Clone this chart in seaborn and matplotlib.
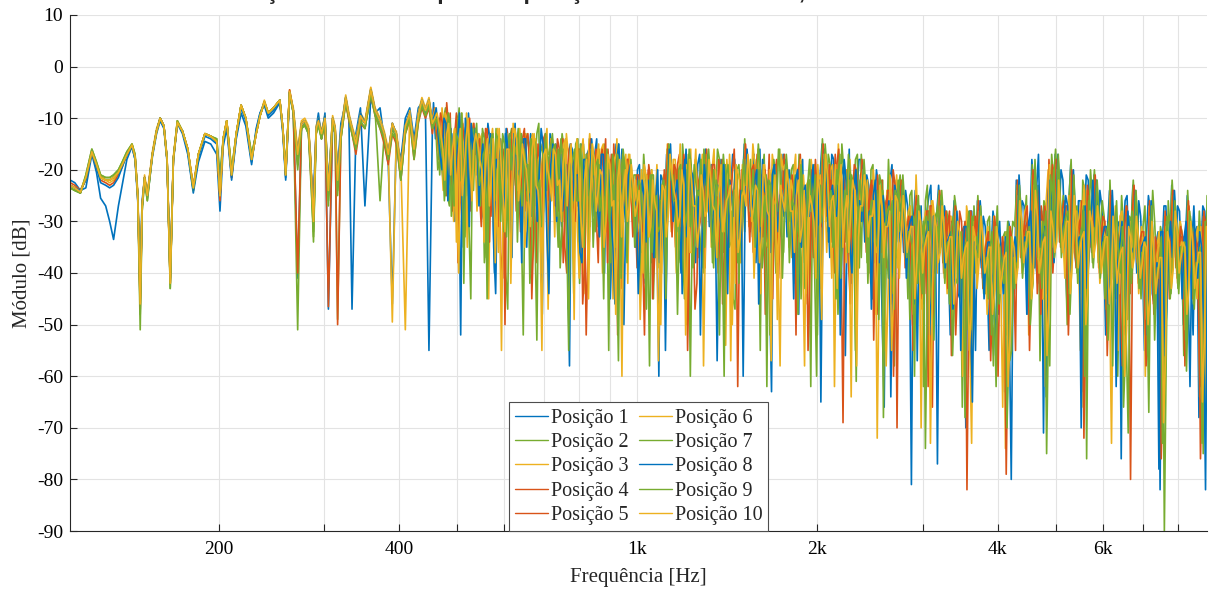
import numpy as np
import pandas as pd
import matplotlib
matplotlib.use("Agg")
import matplotlib.pyplot as plt
import seaborn as sns
from matplotlib.ticker import FixedLocator, FixedFormatter, NullLocator
from matplotlib.lines import Line2D

# ---------------- data ----------------
labels = [f"Posição {k}" for k in range(1, 11)]
blue, green, yellow, orange = "#0072BD", "#77AC30", "#EDB120", "#D95319"
colors = [blue, green, yellow, orange, orange, yellow, green, blue, green, yellow]

f_low = [113, 115, 117.5, 120, 122.8, 125, 127, 129.5, 131.5, 133.5,
         136, 138, 140.5, 143.3, 145, 146.5, 147.9, 149, 150.4, 152,
         155, 157.5, 159.7, 162, 164, 166, 168, 170.6, 174, 177.6,
         181.4, 185, 189.7, 194, 198.5, 201, 203.5, 206.3, 210.2, 214,
         218, 222, 227, 231, 234.5, 238.4, 242, 247, 253, 256,
         258.8, 262.7, 266.5, 271, 275, 278.5, 282.5, 285, 288, 291,
         293.5, 297, 301, 305, 310, 313, 316, 320, 326, 330,
         334, 339, 345, 351, 359, 365, 372, 378, 384, 390,
         396, 403, 410, 417, 424, 431, 437, 443, 449, 455]
f_high_start, f_high_stop, n_high = 460, 9000, 200
extra_start = 50   # extra bins sit half-way between high bins

low_1 = [-22, -22.5, -24, -23.5, -17, -20.5, -25.5, -27, -30, -33.5,
         -27, -23, -18, -15.5, -18, -26, -38, -26, -21.5, -25.5,
         -17.5, -13, -10.5, -12, -18.5, -40, -18.5, -11, -13, -17,
         -24.5, -18.5, -14.5, -15, -17, -28, -15.5, -12, -22, -14,
         -9, -11.5, -19, -12, -9, -7.5, -10, -9, -7, -13,
         -22, -5.5, -9, -41, -12, -11, -13, -20, -25, -12,
         -9, -14, -9, -47, -11, -13, -20, -11, -7, -10,
         -47, -13, -8, -27, -6, -9, -8, -14, -19, -46,
         -14, -18, -10, -8, -14, -8, -7, -9, -55, -12]
low_2 = [-23.5, -24, -24.5, -21, -16, -18.5, -21, -21.5, -21.5, -21,
         -20, -18.5, -16.5, -15, -17, -25, -51, -28, -22, -26,
         -17, -12.5, -10, -11.5, -18, -43, -18, -10.5, -12.5, -16,
         -24, -17, -13, -13.5, -14, -21, -14, -10.5, -20, -13,
         -7.5, -10, -17, -13, -9.5, -7, -9, -8, -6.5, -12,
         -20, -5, -8.5, -51, -11, -10.5, -12, -18, -33, -12,
         -10.5, -13, -10, -23, -10, -12, -49, -13, -6, -9.5,
         -12, -15, -10, -11, -4.5, -8.5, -26, -13, -17, -11,
         -13, -21, -11.5, -9, -17, -9.5, -6.5, -8.5, -7, -11]
low_3 = [-23, -23.5, -24, -21.5, -16.5, -19, -21, -22, -22.5, -22,
         -20.5, -19, -17, -15, -17.5, -24, -44, -27, -21, -24.5,
         -16.5, -12, -10, -11.5, -17.5, -41, -17.5, -10.5, -12.5, -16,
         -23, -17, -13, -13.5, -14.5, -24, -14, -10.5, -21, -13,
         -7.5, -10, -18, -13, -9.5, -6.5, -9, -8, -6.5, -12,
         -21, -4.5, -8.5, -17, -11, -10.5, -12, -19, -30, -12,
         -10.5, -13, -10, -24, -10, -12, -22, -13, -6, -9.5,
         -12, -15, -9.5, -11, -4.2, -8.5, -10.5, -13, -17, -49.5,
         -13, -20, -11.5, -9, -16, -9.5, -6.5, -8.5, -6.5, -11]
low_4 = [-22.5, -23, -24, -22, -16.5, -19.5, -22, -22.5, -23, -22.5,
         -21, -19.5, -17, -15.5, -17.5, -25, -47, -27, -21.5, -25,
         -17, -12.5, -10, -11.5, -18, -42, -18, -11, -12.5, -16,
         -23.5, -17, -13, -13.5, -14.5, -26, -14, -10.5, -21.5, -13,
         -7.5, -10, -18, -13, -9.5, -7, -9, -8, -6.5, -12,
         -21, -4.5, -8.5, -40, -11, -10.5, -12, -19, -30, -12,
         -10.5, -13, -10, -46.5, -10, -12, -22, -13, -6, -9.5,
         -12, -15, -9.5, -11, -4.5, -8.5, -10.5, -13, -17, -11,
         -13, -20, -11.5, -9, -16, -9.5, -6.5, -8.5, -6.5, -11]
low_5 = [-23, -23.5, -24.5, -21.5, -16.5, -19, -21.5, -22, -22, -21.5,
         -20.5, -19, -17, -15.2, -17.5, -25, -45, -27, -21.5, -25,
         -17, -12.5, -10, -11.5, -18, -42, -18, -10.8, -12.5, -16,
         -23.5, -17, -13, -13.5, -14.5, -25, -14, -10.5, -21, -13,
         -7.5, -10, -18, -13, -9.5, -6.8, -9, -8, -6.5, -12,
         -21, -4.8, -9, -18, -12, -11, -13, -21, -28, -13,
         -11, -14, -11, -25, -11, -13, -50, -14, -7, -10.5,
         -13, -17, -11, -12, -5.5, -9.5, -12, -15, -19, -13,
         -15, -22, -13, -10.5, -18, -11, -8, -10, -8, -13]
low_6 = [-23, -23.5, -24.3, -21.5, -16.5, -19, -21.5, -22, -22, -21.5,
         -20.5, -19, -17, -15.2, -17.5, -25, -42, -27, -21.5, -25,
         -17, -12.5, -10, -11.5, -18, -41, -18, -10.8, -12.5, -16,
         -23.5, -17, -13, -13.5, -14.5, -25, -14, -10.5, -21, -13,
         -7.5, -10, -18, -13, -9.5, -6.8, -9, -8, -6.5, -12,
         -21, -5, -8, -16, -10.5, -10, -11.5, -18, -31, -11.5,
         -10, -12.5, -9.5, -23, -9.5, -11.5, -21, -12.5, -5.5, -9,
         -11.5, -14, -9, -10.5, -4, -8, -10, -12.5, -16, -12,
         -12.5, -19, -51, -8.5, -15.5, -9, -6, -8, -6, -10.5]
low_7 = [-23.5, -24, -24.5, -21, -16, -18.5, -21, -21.5, -21.5, -21,
         -20, -18.5, -16.5, -15, -17, -25, -48, -28, -22, -26,
         -17, -12.5, -10, -11.5, -18, -43, -18, -10.5, -12.5, -16,
         -24, -17, -13, -13.5, -14, -22, -14, -10.5, -20, -13,
         -7.5, -10, -17, -13, -9.5, -7, -9, -8, -6.5, -12,
         -20, -5, -9, -19, -12, -11.5, -13, -20, -34, -13,
         -11, -14, -10.5, -26, -10.5, -13, -24, -14, -6.5, -10,
         -13, -16, -10.5, -12, -5, -9, -11.5, -14, -18, -12,
         -14, -22, -12.5, -10, -18, -10.5, -7.5, -9.5, -7.5, -12]
low_8 = [-23, -23.5, -24, -22, -16.5, -19.5, -22.5, -23, -23.5, -23,
         -21.5, -19.5, -17, -15.5, -18, -25, -44, -27, -21.5, -25,
         -17, -12.5, -10, -11.5, -18, -41, -18, -11, -12.5, -16.5,
         -24, -17.5, -13.5, -14, -15, -23, -14.5, -11, -21.5, -13.5,
         -8, -10.5, -18.5, -12.5, -9, -7, -9.5, -8.5, -6.5, -12.5,
         -21.5, -5, -8.5, -17, -11, -10.5, -12, -19, -29, -12,
         -10, -13, -9.5, -23, -10, -12, -21, -12.5, -6, -9.5,
         -12, -15, -9, -11, -4.5, -8.5, -10.5, -13, -17, -11,
         -13, -20, -11, -9, -16, -9.5, -6.5, -8.5, -6.5, -11]
low_9 = [-23.5, -24, -24.5, -21.5, -16.5, -19, -21.5, -22, -22, -21.5,
         -20.5, -19, -17, -15.2, -17.5, -25, -46, -27, -21.5, -25,
         -17, -12.5, -10, -11.5, -18, -42, -18, -10.8, -12.5, -16,
         -23.5, -17, -13, -13.5, -14.5, -25, -14, -10.5, -21, -13,
         -7.5, -10, -18, -13, -9.5, -6.8, -9, -8, -6.5, -12,
         -21, -5, -9, -20, -12, -11, -13, -22, -32, -13,
         -11.5, -14, -11, -27, -11, -13, -25, -14, -7, -10,
         -13, -16, -10.5, -12, -5.5, -9.5, -12, -14, -18, -13,
         -14, -22, -13, -10, -17, -10.5, -7.5, -9.5, -7.5, -12]
low_10 = [-23, -23.5, -24.3, -21.5, -16.5, -19, -21.5, -22, -22, -21.5,
          -20.5, -19, -17, -15.2, -17.5, -25, -46, -27, -21.5, -25,
          -17, -12.5, -10, -11.5, -18, -42, -18, -10.8, -12.5, -16,
          -23.5, -17, -13, -13.5, -14.5, -25, -14, -10.5, -21, -13,
          -7.5, -10, -18, -13, -9.5, -6.8, -9, -8, -6.5, -12,
          -21, -4.8, -8.5, -17, -11, -10.5, -12, -19, -30, -12,
          -10.5, -13, -10, -24, -10, -12, -22, -13, -6, -9.5,
          -12, -15, -9.5, -11, -4.5, -8.5, -10.5, -13, -17, -11,
          -13, -20, -11.5, -9, -16, -9.5, -6.5, -8.5, -6.5, -11]

high_1 = [-7, -12, -19, -9, -14, -24, -11, -52, -13, -9,
          -12, -21, -15, -30, -11, -18, -44, -16, -25, -13,
          -14, -11, -26, -18, -35, -13, -22, -16, -48, -15,
          -13, -25, -17, -31, -14, -58, -19, -27, -15, -22,
          -16, -29, -14, -21, -40, -17, -33, -15, -26, -50,
          -18, -24, -35, -19, -28, -21, -38, -25, -60, -22,
          -17, -15, -29, -22, -44, -16, -25, -34, -19, -27,
          -16, -31, -21, -57, -18, -24, -36, -17, -29, -22,
          -15, -26, -20, -38, -16, -30, -23, -63, -19, -28,
          -17, -33, -22, -29, -48, -18, -25, -36, -20, -27,
          -15, -24, -37, -18, -28, -21, -56, -16, -31, -25,
          -18, -34, -23, -45, -20, -30, -66, -26, -19, -37,
          -22, -36, -27, -81, -24, -33, -46, -28, -23, -40,
          -23, -35, -30, -52, -26, -44, -32, -70, -28, -37,
          -26, -39, -31, -55, -28, -45, -35, -63, -30, -41,
          -22, -34, -27, -48, -18, -38, -29, -71, -24, -33,
          -17, -30, -22, -45, -19, -36, -26, -58, -21, -32,
          -21, -35, -27, -52, -24, -41, -31, -76, -26, -38,
          -23, -40, -29, -55, -25, -44, -34, -82, -27, -39,
          -23, -37, -28, -50, -25, -42, -32, -68, -27, -35]
high_2 = [-9, -20, -13, -8, -27, -15, -10, -18, -33, -12,
          -13, -11, -24, -38, -15, -20, -12, -29, -17, -47,
          -12, -23, -16, -52, -13, -27, -19, -11, -30, -17,
          -15, -20, -35, -13, -24, -18, -44, -14, -28, -21,
          -14, -35, -19, -25, -15, -55, -22, -17, -31, -20,
          -19, -27, -21, -43, -17, -33, -20, -29, -39, -24,
          -16, -28, -19, -38, -15, -23, -60, -21, -30, -18,
          -17, -22, -39, -16, -27, -19, -33, -45, -20, -26,
          -14, -24, -33, -18, -55, -17, -27, -21, -40, -16,
          -18, -29, -20, -42, -17, -31, -24, -62, -19, -26,
          -14, -30, -19, -26, -48, -15, -34, -22, -28, -17,
          -17, -28, -40, -19, -33, -24, -55, -18, -30, -22,
          -21, -31, -45, -24, -38, -27, -62, -23, -35, -29,
          -24, -38, -28, -47, -25, -35, -66, -30, -40, -27,
          -25, -36, -44, -29, -58, -27, -40, -32, -49, -30,
          -23, -37, -30, -44, -19, -33, -57, -26, -40, -17,
          -16, -34, -25, -50, -18, -29, -41, -22, -76, -20,
          -20, -38, -26, -47, -22, -34, -60, -25, -43, -29,
          -22, -37, -45, -27, -67, -24, -39, -31, -90, -26,
          -22, -39, -30, -56, -24, -36, -43, -28, -75, -25]
high_3 = [-10, -16, -8, -22, -12, -30, -14, -9, -20, -13,
          -11, -28, -14, -19, -45, -12, -23, -16, -32, -14,
          -13, -19, -12, -29, -22, -41, -14, -25, -17, -12,
          -14, -33, -18, -23, -13, -26, -49, -16, -20, -30,
          -13, -22, -31, -16, -27, -19, -45, -14, -37, -18,
          -17, -30, -23, -49, -19, -26, -20, -34, -27, -21,
          -15, -32, -18, -26, -21, -50, -16, -28, -37, -17,
          -18, -26, -16, -34, -23, -54, -17, -30, -20, -38,
          -16, -31, -15, -25, -44, -19, -35, -17, -24, -58,
          -19, -24, -37, -17, -30, -21, -46, -18, -28, -34,
          -16, -36, -20, -62, -15, -27, -38, -18, -24, -31,
          -19, -26, -38, -20, -72, -23, -33, -27, -44, -21,
          -24, -34, -28, -43, -21, -39, -30, -55, -26, -36,
          -25, -33, -44, -29, -39, -31, -60, -27, -42, -30,
          -27, -38, -33, -47, -29, -42, -36, -74, -31, -40,
          -24, -35, -28, -52, -21, -39, -31, -45, -20, -36,
          -19, -33, -27, -40, -21, -37, -29, -66, -24, -35,
          -22, -39, -30, -45, -25, -36, -55, -28, -42, -33,
          -24, -38, -31, -60, -27, -43, -35, -48, -29, -41,
          -25, -36, -30, -47, -27, -41, -33, -64, -29, -38]
high_4 = [-8, -15, -11, -25, -9, -17, -38, -12, -21, -10,
          -12, -19, -31, -13, -26, -17, -14, -36, -20, -15,
          -12, -28, -17, -21, -13, -45, -18, -24, -14, -33,
          -15, -21, -28, -14, -40, -19, -25, -16, -31, -52,
          -15, -25, -18, -33, -14, -22, -28, -17, -43, -21,
          -18, -33, -21, -27, -52, -20, -30, -24, -36, -22,
          -16, -26, -35, -17, -24, -30, -19, -47, -22, -29,
          -16, -28, -19, -40, -18, -32, -22, -26, -62, -20,
          -15, -22, -36, -17, -27, -20, -31, -45, -18, -30,
          -17, -26, -21, -52, -19, -33, -24, -28, -18, -37,
          -15, -29, -22, -40, -16, -32, -25, -46, -19, -27,
          -18, -32, -24, -53, -21, -36, -27, -41, -20, -70,
          -23, -37, -29, -50, -25, -41, -32, -62, -27, -35,
          -24, -40, -31, -56, -27, -38, -33, -82, -28, -38,
          -26, -41, -34, -48, -30, -60, -36, -44, -32, -39,
          -22, -37, -29, -43, -20, -35, -48, -27, -41, -19,
          -18, -34, -26, -47, -20, -38, -30, -63, -23, -33,
          -21, -36, -29, -49, -24, -40, -33, -58, -27, -44,
          -23, -39, -32, -52, -26, -46, -36, -76, -28, -42,
          -24, -40, -31, -55, -26, -43, -34, -62, -28, -37]
high_5 = [-9, -18, -12, -7, -23, -14, -31, -11, -16, -28,
          -11, -16, -22, -12, -34, -18, -13, -27, -50, -15,
          -13, -17, -32, -12, -21, -15, -38, -20, -14, -26,
          -14, -27, -16, -38, -21, -15, -30, -18, -46, -17,
          -14, -20, -38, -16, -29, -23, -15, -52, -19, -27,
          -18, -22, -39, -24, -31, -19, -45, -23, -28, -20,
          -15, -33, -20, -28, -17, -55, -24, -18, -31, -21,
          -17, -25, -30, -18, -46, -21, -27, -16, -35, -23,
          -16, -34, -19, -29, -21, -48, -17, -32, -23, -26,
          -18, -31, -23, -38, -17, -27, -55, -20, -33, -22,
          -16, -26, -34, -17, -30, -69, -20, -36, -23, -28,
          -20, -36, -25, -31, -48, -22, -39, -24, -60, -26,
          -22, -39, -31, -55, -26, -35, -44, -28, -66, -33,
          -26, -37, -43, -30, -52, -28, -41, -33, -63, -29,
          -27, -43, -35, -57, -29, -47, -33, -79, -31, -42,
          -23, -38, -31, -55, -21, -44, -27, -36, -18, -40,
          -18, -35, -28, -52, -22, -39, -31, -72, -24, -36,
          -22, -40, -31, -56, -25, -43, -34, -47, -27, -80,
          -25, -42, -33, -58, -27, -48, -37, -66, -29, -45,
          -24, -41, -33, -58, -27, -45, -35, -76, -29, -39]
high_6 = [-8, -14, -24, -10, -18, -12, -40, -15, -9, -19,
          -14, -25, -13, -20, -17, -31, -12, -55, -16, -22,
          -11, -24, -15, -35, -19, -13, -28, -17, -22, -47,
          -14, -19, -26, -15, -33, -20, -17, -41, -14, -24,
          -16, -27, -15, -40, -20, -31, -18, -23, -60, -17,
          -17, -28, -32, -20, -41, -23, -26, -19, -50, -24,
          -18, -23, -40, -15, -29, -20, -36, -16, -25, -58,
          -17, -35, -20, -24, -30, -18, -57, -22, -26, -19,
          -18, -28, -41, -16, -23, -34, -20, -29, -49, -17,
          -19, -35, -24, -30, -18, -58, -22, -27, -39, -21,
          -17, -23, -41, -19, -33, -26, -20, -64, -24, -30,
          -20, -29, -42, -22, -35, -26, -58, -21, -31, -39,
          -25, -38, -32, -48, -27, -70, -30, -42, -26, -37,
          -27, -41, -33, -49, -28, -38, -45, -31, -73, -34,
          -28, -39, -48, -33, -43, -36, -66, -32, -41, -37,
          -25, -40, -33, -47, -23, -37, -30, -62, -19, -35,
          -20, -32, -41, -25, -36, -28, -55, -23, -38, -30,
          -24, -42, -32, -38, -73, -27, -44, -34, -39, -30,
          -26, -44, -33, -49, -29, -40, -35, -62, -31, -43,
          -26, -42, -34, -51, -28, -38, -45, -31, -70, -36]
high_7 = [-9, -21, -14, -11, -29, -16, -8, -23, -13, -45,
          -13, -20, -12, -37, -17, -24, -14, -19, -30, -13,
          -14, -34, -13, -20, -26, -16, -53, -15, -23, -18,
          -13, -24, -39, -16, -22, -28, -15, -34, -19, -26,
          -17, -32, -19, -26, -16, -38, -21, -57, -18, -29,
          -20, -31, -25, -36, -22, -58, -21, -33, -26, -40,
          -15, -21, -32, -19, -45, -17, -28, -23, -33, -16,
          -19, -29, -24, -52, -17, -26, -34, -20, -42, -25,
          -17, -23, -30, -15, -39, -21, -52, -18, -28, -33,
          -20, -38, -25, -31, -19, -43, -22, -29, -60, -23,
          -18, -32, -24, -45, -17, -29, -36, -21, -55, -26,
          -21, -38, -27, -33, -49, -24, -36, -29, -47, -22,
          -26, -35, -49, -29, -42, -33, -74, -28, -39, -31,
          -25, -42, -34, -56, -30, -45, -35, -51, -29, -40,
          -29, -44, -37, -52, -31, -46, -38, -70, -33, -43,
          -24, -41, -32, -50, -22, -37, -43, -28, -58, -20,
          -19, -37, -30, -44, -23, -40, -32, -60, -26, -38,
          -23, -41, -33, -53, -26, -45, -35, -66, -29, -42,
          -25, -43, -35, -48, -28, -53, -38, -73, -30, -45,
          -25, -43, -35, -53, -28, -46, -37, -60, -30, -41]
high_8 = [-8, -17, -10, -26, -13, -20, -9, -35, -14, -11,
          -12, -27, -15, -22, -13, -40, -18, -24, -12, -29,
          -13, -21, -38, -14, -25, -18, -30, -12, -19, -44,
          -15, -30, -17, -24, -47, -16, -21, -36, -18, -25,
          -14, -24, -33, -17, -21, -29, -46, -15, -25, -32,
          -19, -26, -44, -22, -34, -25, -37, -20, -31, -55,
          -16, -30, -22, -40, -18, -26, -21, -33, -52, -19,
          -17, -34, -23, -29, -19, -44, -25, -20, -31, -60,
          -16, -29, -22, -46, -18, -25, -36, -19, -32, -24,
          -18, -27, -45, -20, -35, -23, -29, -19, -41, -65,
          -16, -34, -23, -29, -52, -18, -30, -40, -20, -26,
          -19, -30, -47, -22, -38, -25, -31, -64, -23, -34,
          -23, -41, -30, -46, -26, -36, -33, -52, -29, -77,
          -26, -39, -33, -47, -28, -55, -31, -42, -65, -35,
          -26, -45, -34, -40, -56, -30, -44, -35, -80, -33,
          -21, -36, -48, -28, -39, -17, -33, -64, -22, -38,
          -17, -33, -25, -43, -20, -35, -70, -27, -37, -22,
          -22, -37, -31, -46, -24, -62, -34, -41, -28, -36,
          -24, -41, -34, -52, -26, -43, -78, -32, -47, -30,
          -24, -38, -45, -30, -62, -27, -41, -35, -82, -29]
high_9 = [-10, -15, -26, -9, -20, -13, -17, -42, -11, -22,
          -12, -23, -17, -45, -14, -26, -19, -13, -33, -18,
          -15, -12, -27, -19, -42, -14, -24, -31, -13, -21,
          -16, -29, -14, -21, -55, -18, -26, -15, -35, -20,
          -15, -19, -28, -45, -17, -24, -35, -20, -16, -38,
          -18, -35, -22, -28, -47, -21, -27, -32, -23, -45,
          -17, -26, -48, -20, -31, -16, -39, -24, -18, -35,
          -16, -38, -22, -27, -60, -19, -30, -24, -35, -18,
          -19, -25, -35, -20, -29, -62, -23, -27, -16, -41,
          -17, -30, -27, -48, -21, -34, -18, -25, -52, -30,
          -15, -27, -35, -20, -41, -24, -17, -30, -61, -22,
          -18, -42, -26, -34, -21, -68, -28, -40, -24, -32,
          -21, -37, -33, -60, -25, -44, -29, -38, -53, -27,
          -24, -36, -46, -29, -42, -32, -68, -28, -39, -33,
          -27, -40, -45, -32, -62, -35, -42, -30, -55, -38,
          -23, -39, -35, -45, -18, -40, -30, -75, -21, -37,
          -17, -36, -29, -48, -21, -42, -33, -55, -25, -39,
          -22, -38, -45, -30, -58, -26, -40, -35, -71, -28,
          -24, -42, -36, -56, -27, -47, -39, -64, -29, -44,
          -26, -44, -36, -59, -29, -47, -38, -73, -31, -40]
high_10 = [-9, -13, -22, -11, -16, -34, -12, -20, -10, -26,
           -13, -18, -29, -14, -21, -38, -12, -25, -16, -42,
           -12, -26, -15, -20, -31, -13, -24, -55, -16, -22,
           -16, -23, -30, -15, -20, -37, -14, -29, -22, -45,
           -15, -28, -20, -35, -17, -27, -48, -18, -24, -30,
           -19, -29, -24, -40, -21, -31, -26, -57, -23, -33,
           -17, -24, -31, -20, -52, -18, -27, -35, -21, -29,
           -18, -27, -37, -21, -30, -25, -50, -19, -33, -24,
           -17, -30, -23, -38, -19, -28, -57, -21, -33, -26,
           -20, -28, -36, -22, -31, -44, -25, -30, -19, -49,
           -17, -31, -25, -43, -19, -28, -36, -22, -58, -27,
           -21, -33, -29, -48, -23, -37, -31, -55, -25, -41,
           -25, -36, -31, -45, -28, -40, -33, -73, -29, -38,
           -27, -38, -33, -46, -30, -41, -35, -55, -31, -43,
           -29, -40, -35, -48, -31, -44, -37, -62, -33, -42,
           -26, -38, -32, -45, -24, -40, -34, -56, -28, -36,
           -22, -36, -30, -44, -25, -39, -33, -50, -28, -37,
           -27, -40, -33, -46, -29, -42, -36, -60, -31, -39,
           -29, -41, -34, -50, -30, -44, -37, -69, -32, -43,
           -28, -40, -34, -48, -30, -43, -36, -65, -31, -39]

# values half-way between high bins 0..49
extra_lo_1 = [-14, -10, -22, -16, -12, -30, -18, -11, -25, -15,
              -17, -13, -28, -20, -14, -35, -19, -24, -13, -21,
              -16, -24, -13, -31, -19, -15, -27, -21, -14, -38,
              -18, -15, -27, -20, -36, -16, -23, -19, -29, -17,
              -21, -17, -31, -24, -18, -45, -20, -26, -16, -28]
extra_lo_2 = [-12, -18, -10, -25, -14, -21, -9, -29, -16, -13,
              -15, -22, -17, -33, -13, -25, -19, -16, -40, -14,
              -18, -14, -30, -20, -16, -26, -13, -36, -21, -17,
              -14, -26, -19, -16, -31, -22, -17, -42, -15, -24,
              -19, -25, -16, -34, -21, -18, -28, -15, -37, -22]
extra_lo_3 = [-11, -19, -13, -9, -24, -15, -20, -12, -35, -17,
              -16, -13, -21, -27, -15, -19, -36, -14, -22, -18,
              -14, -27, -18, -13, -23, -33, -16, -20, -15, -29,
              -20, -16, -24, -30, -17, -22, -15, -27, -44, -19,
              -18, -26, -21, -15, -32, -19, -25, -38, -17, -23]
extra_lo_4 = [-13, -9, -20, -15, -28, -11, -16, -23, -12, -19,
              -14, -24, -17, -12, -29, -20, -15, -41, -18, -22,
              -15, -19, -25, -14, -20, -32, -17, -23, -13, -26,
              -17, -23, -15, -35, -21, -18, -28, -16, -24, -33,
              -20, -16, -27, -22, -38, -17, -24, -19, -30, -18]
extra_lo_5 = [-10, -16, -21, -12, -18, -9, -26, -14, -20, -13,
              -17, -14, -26, -19, -15, -23, -31, -16, -12, -25,
              -16, -22, -14, -28, -18, -24, -15, -33, -19, -21,
              -18, -14, -22, -29, -16, -25, -20, -17, -39, -22,
              -17, -29, -19, -24, -16, -33, -22, -27, -18, -25]
extra_lo_6 = [-12, -17, -9, -21, -14, -27, -11, -18, -24, -13,
              -15, -20, -34, -14, -23, -17, -26, -19, -13, -30,
              -17, -13, -22, -28, -15, -21, -18, -40, -14, -25,
              -16, -25, -20, -14, -28, -22, -31, -17, -23, -19,
              -22, -18, -26, -33, -19, -24, -17, -29, -21, -42]
extra_lo_7 = [-11, -14, -25, -10, -19, -13, -22, -17, -30, -12,
              -16, -27, -14, -21, -18, -13, -25, -32, -15, -20,
              -15, -21, -18, -26, -14, -31, -20, -17, -24, -16,
              -19, -16, -31, -22, -18, -25, -14, -29, -20, -34,
              -18, -23, -20, -29, -25, -17, -36, -22, -19, -27]
extra_lo_8 = [-13, -20, -11, -17, -24, -14, -19, -10, -31, -16,
              -14, -19, -26, -15, -22, -18, -14, -28, -17, -37,
              -16, -20, -14, -24, -29, -17, -21, -15, -33, -19,
              -17, -22, -28, -19, -15, -26, -21, -38, -18, -23,
              -19, -27, -17, -25, -20, -35, -18, -23, -28, -21]
extra_lo_9 = [-12, -16, -20, -11, -27, -14, -9, -19, -15, -24,
              -14, -21, -16, -26, -13, -20, -30, -15, -23, -17,
              -17, -23, -16, -19, -34, -15, -22, -28, -18, -24,
              -15, -21, -18, -33, -20, -16, -26, -22, -17, -31,
              -21, -18, -24, -19, -30, -23, -17, -41, -20, -26]
extra_lo_10 = [-11, -16, -13, -21, -12, -18, -25, -14, -19, -15,
               -15, -20, -17, -27, -14, -22, -19, -32, -16, -23,
               -14, -21, -18, -25, -16, -23, -30, -17, -20, -26,
               -17, -22, -19, -27, -15, -24, -21, -35, -18, -25,
               -18, -24, -21, -30, -19, -26, -22, -33, -20, -27]

# values half-way between high bins 50..199
extra_1 = [-23, -30, -20, -27, -42, -22, -26, -31, -21, -28,
           -20, -26, -33, -18, -24, -29, -21, -38, -17, -25,
           -22, -19, -28, -33, -20, -27, -24, -18, -35, -23,
           -19, -32, -17, -25, -30, -21, -44, -20, -26, -22,
           -24, -20, -30, -26, -19, -38, -23, -28, -32, -21,
           -20, -28, -17, -33, -24, -19, -29, -42, -22, -18,
           -25, -21, -36, -28, -23, -50, -26, -22, -31, -27,
           -28, -24, -35, -30, -57, -27, -33, -25, -38, -29,
           -30, -27, -38, -33, -29, -45, -31, -36, -28, -55,
           -33, -29, -41, -36, -31, -48, -34, -38, -32, -44,
           -29, -26, -37, -31, -24, -42, -28, -33, -21, -30,
           -24, -20, -33, -27, -23, -39, -26, -30, -22, -28,
           -28, -24, -36, -31, -27, -44, -30, -34, -25, -33,
           -30, -26, -39, -33, -28, -46, -32, -36, -27, -35,
           -30, -27, -38, -34, -29, -52, -31, -36, -28, -33]
extra_2 = [-25, -21, -34, -28, -23, -31, -45, -22, -27, -33,
           -18, -29, -23, -35, -20, -27, -31, -19, -26, -40,
           -21, -30, -25, -18, -36, -23, -28, -47, -19, -29,
           -23, -18, -31, -26, -21, -35, -24, -28, -19, -33,
           -22, -34, -19, -27, -45, -23, -31, -20, -28, -25,
           -21, -17, -31, -25, -36, -20, -28, -23, -18, -39,
           -23, -30, -20, -38, -26, -22, -33, -28, -58, -24,
           -27, -33, -25, -42, -29, -34, -26, -48, -31, -28,
           -29, -35, -31, -42, -28, -33, -39, -30, -60, -34,
           -32, -37, -30, -45, -34, -40, -33, -52, -35, -31,
           -28, -34, -25, -40, -30, -23, -36, -27, -31, -22,
           -23, -29, -35, -25, -31, -27, -44, -24, -32, -26,
           -27, -32, -29, -40, -33, -28, -38, -31, -49, -30,
           -29, -35, -31, -44, -34, -30, -41, -33, -55, -32,
           -29, -34, -32, -45, -33, -30, -39, -35, -48, -31]
extra_3 = [-22, -29, -25, -36, -21, -33, -27, -24, -40, -26,
           -22, -18, -27, -31, -24, -20, -36, -25, -22, -30,
           -24, -20, -32, -27, -21, -29, -25, -42, -22, -27,
           -21, -26, -19, -33, -28, -23, -30, -20, -38, -24,
           -25, -29, -21, -35, -24, -27, -32, -22, -29, -43,
           -22, -27, -19, -30, -25, -34, -21, -28, -24, -32,
           -26, -22, -32, -25, -40, -28, -24, -35, -27, -30,
           -29, -32, -27, -37, -31, -47, -28, -34, -30, -40,
           -31, -36, -29, -39, -33, -35, -48, -30, -37, -34,
           -34, -38, -31, -43, -35, -39, -33, -58, -36, -40,
           -30, -35, -27, -38, -29, -33, -45, -26, -32, -28,
           -25, -30, -27, -36, -29, -33, -26, -41, -30, -28,
           -30, -34, -31, -39, -33, -36, -29, -47, -34, -32,
           -31, -36, -33, -41, -35, -38, -32, -52, -36, -34,
           -32, -35, -33, -43, -34, -37, -31, -50, -35, -36]
extra_4 = [-24, -28, -21, -35, -26, -23, -39, -28, -25, -31,
           -21, -27, -19, -32, -25, -22, -28, -42, -20, -26,
           -23, -19, -27, -31, -22, -36, -24, -21, -30, -26,
           -20, -27, -23, -18, -33, -25, -29, -22, -41, -24,
           -23, -30, -26, -20, -33, -28, -22, -37, -25, -29,
           -21, -25, -32, -19, -27, -23, -38, -26, -20, -30,
           -24, -28, -22, -34, -27, -31, -25, -46, -23, -29,
           -28, -31, -36, -29, -33, -45, -30, -27, -38, -32,
           -30, -34, -28, -41, -32, -37, -30, -44, -35, -31,
           -33, -36, -32, -47, -35, -38, -34, -42, -37, -55,
           -29, -33, -27, -41, -31, -24, -37, -30, -26, -34,
           -24, -28, -31, -36, -26, -33, -29, -48, -27, -31,
           -28, -33, -30, -38, -35, -31, -46, -32, -36, -29,
           -30, -34, -32, -43, -36, -33, -39, -58, -35, -31,
           -31, -35, -33, -40, -36, -32, -44, -34, -53, -33]
extra_5 = [-21, -27, -24, -32, -29, -22, -36, -25, -30, -23,
           -23, -19, -30, -25, -21, -34, -27, -23, -29, -39,
           -20, -25, -29, -22, -34, -26, -21, -31, -24, -28,
           -24, -20, -28, -32, -22, -27, -36, -21, -30, -25,
           -21, -27, -32, -23, -29, -25, -40, -22, -27, -31,
           -23, -19, -28, -24, -35, -22, -30, -26, -48, -21,
           -25, -30, -23, -37, -27, -33, -24, -29, -35, -26,
           -27, -34, -29, -40, -31, -36, -28, -52, -30, -35,
           -31, -28, -36, -33, -42, -30, -38, -34, -47, -32,
           -32, -37, -35, -44, -33, -41, -36, -50, -34, -39,
           -28, -33, -30, -39, -26, -35, -31, -44, -27, -33,
           -24, -31, -27, -38, -29, -34, -26, -42, -30, -32,
           -29, -35, -32, -41, -30, -37, -33, -52, -31, -36,
           -31, -37, -34, -45, -33, -40, -35, -61, -32, -38,
           -30, -36, -33, -42, -32, -39, -34, -57, -31, -37]
extra_6 = [-25, -22, -30, -27, -35, -21, -28, -33, -26, -29,
           -20, -27, -24, -31, -19, -36, -23, -28, -21, -32,
           -22, -28, -25, -19, -32, -24, -29, -22, -38, -26,
           -22, -25, -30, -21, -27, -35, -23, -26, -31, -20,
           -24, -22, -31, -27, -36, -23, -28, -33, -25, -30,
           -22, -29, -24, -35, -21, -27, -32, -25, -38, -23,
           -24, -31, -27, -36, -25, -29, -44, -26, -33, -28,
           -29, -35, -31, -40, -28, -36, -33, -46, -30, -38,
           -32, -36, -34, -43, -31, -38, -35, -53, -33, -40,
           -33, -38, -36, -45, -34, -42, -37, -48, -35, -40,
           -30, -36, -33, -41, -28, -38, -34, -46, -29, -35,
           -26, -33, -29, -39, -31, -35, -28, -45, -32, -34,
           -31, -37, -33, -44, -35, -39, -32, -50, -36, -38,
           -33, -38, -35, -46, -36, -41, -34, -55, -37, -40,
           -32, -37, -35, -45, -33, -40, -36, -52, -34, -38]
extra_7 = [-22, -28, -24, -34, -30, -21, -37, -26, -29, -24,
           -22, -26, -20, -35, -24, -31, -19, -28, -39, -23,
           -23, -20, -31, -26, -22, -35, -27, -21, -29, -32,
           -21, -28, -24, -20, -34, -26, -31, -22, -28, -36,
           -24, -28, -21, -33, -26, -30, -23, -40, -27, -29,
           -22, -26, -30, -21, -34, -25, -28, -23, -31, -37,
           -25, -29, -34, -24, -30, -27, -41, -26, -32, -28,
           -29, -33, -37, -31, -35, -30, -45, -32, -36, -34,
           -31, -35, -33, -44, -32, -38, -34, -49, -36, -33,
           -34, -39, -36, -46, -35, -41, -37, -54, -38, -36,
           -30, -35, -32, -43, -29, -37, -33, -47, -28, -34,
           -26, -32, -30, -40, -28, -35, -31, -44, -29, -33,
           -30, -35, -33, -42, -31, -38, -34, -55, -32, -37,
           -32, -37, -35, -46, -33, -40, -36, -59, -34, -39,
           -32, -36, -34, -44, -33, -39, -35, -54, -34, -38]
extra_8 = [-23, -27, -32, -25, -22, -30, -26, -38, -24, -28,
           -21, -25, -29, -22, -33, -20, -27, -24, -30, -23,
           -21, -27, -23, -32, -26, -22, -29, -35, -24, -27,
           -22, -26, -20, -30, -24, -33, -21, -27, -25, -29,
           -23, -27, -22, -31, -25, -29, -24, -36, -22, -28,
           -21, -25, -28, -23, -31, -22, -35, -24, -27, -30,
           -24, -28, -25, -33, -27, -30, -26, -39, -25, -31,
           -28, -32, -29, -36, -31, -34, -30, -43, -32, -35,
           -30, -34, -32, -40, -33, -37, -31, -47, -34, -36,
           -32, -37, -34, -43, -35, -39, -33, -51, -36, -38,
           -28, -33, -30, -38, -24, -35, -31, -45, -26, -32,
           -24, -30, -27, -36, -29, -33, -28, -43, -30, -31,
           -29, -33, -31, -40, -32, -36, -30, -48, -33, -35,
           -31, -35, -33, -43, -34, -38, -32, -56, -35, -37,
           -31, -35, -33, -42, -34, -37, -32, -50, -34, -36]
extra_9 = [-24, -29, -23, -33, -27, -36, -25, -31, -22, -28,
           -21, -26, -30, -23, -28, -19, -34, -25, -29, -22,
           -22, -29, -25, -33, -21, -28, -24, -38, -26, -23,
           -23, -20, -27, -31, -25, -22, -34, -26, -21, -29,
           -22, -26, -30, -24, -35, -23, -28, -21, -31, -27,
           -20, -24, -29, -22, -33, -26, -21, -37, -25, -28,
           -24, -29, -26, -35, -23, -31, -27, -44, -25, -30,
           -27, -32, -35, -29, -39, -31, -34, -47, -30, -36,
           -30, -34, -31, -41, -33, -38, -32, -51, -35, -37,
           -33, -37, -35, -44, -34, -40, -36, -57, -37, -39,
           -29, -34, -31, -42, -27, -36, -33, -48, -25, -33,
           -25, -31, -28, -38, -30, -34, -27, -46, -31, -33,
           -29, -34, -32, -41, -33, -37, -31, -53, -34, -36,
           -31, -36, -34, -45, -35, -39, -33, -62, -36, -38,
           -31, -35, -34, -43, -33, -38, -35, -55, -32, -37]
extra_10 = [-23, -27, -30, -25, -33, -22, -28, -35, -24, -29,
            -21, -26, -29, -23, -34, -22, -27, -31, -24, -28,
            -22, -28, -24, -32, -26, -23, -30, -36, -25, -27,
            -21, -27, -24, -33, -22, -29, -26, -38, -23, -28,
            -23, -28, -25, -34, -24, -30, -27, -41, -25, -29,
            -21, -26, -30, -23, -35, -25, -28, -24, -33, -27,
            -24, -29, -26, -36, -27, -31, -28, -45, -26, -32,
            -29, -33, -31, -38, -30, -35, -32, -44, -31, -36,
            -31, -35, -33, -41, -32, -37, -34, -48, -33, -38,
            -33, -38, -35, -44, -34, -40, -36, -52, -35, -39,
            -30, -35, -32, -40, -29, -37, -33, -46, -31, -34,
            -28, -33, -30, -38, -31, -35, -32, -44, -30, -34,
            -31, -36, -33, -42, -34, -38, -35, -51, -33, -37,
            -33, -38, -35, -45, -36, -40, -37, -56, -34, -39,
            -32, -37, -35, -43, -34, -39, -36, -53, -33, -38]

lows = [low_1, low_2, low_3, low_4, low_5, low_6, low_7, low_8, low_9, low_10]
highs = [high_1, high_2, high_3, high_4, high_5, high_6, high_7, high_8, high_9, high_10]
extras_lo = [extra_lo_1, extra_lo_2, extra_lo_3, extra_lo_4, extra_lo_5,
             extra_lo_6, extra_lo_7, extra_lo_8, extra_lo_9, extra_lo_10]
extras = [extra_1, extra_2, extra_3, extra_4, extra_5, extra_6, extra_7, extra_8, extra_9, extra_10]

# high-band bins (log spaced); each measurement's bins are slightly staggered
step = (f_high_stop / f_high_start) ** (1.0 / (n_high - 1))
frames = []
for k, (lab, lo, hi, exl, ex) in enumerate(zip(labels, lows, highs, extras_lo, extras)):
    n = min(len(f_low), len(lo))
    shift = step ** ((k - 4.5) / 10.0)
    f_hi = f_high_start * step ** np.arange(len(hi)) * shift
    f_exl = f_high_start * step ** (np.arange(len(exl)) + 0.5) * shift
    f_ex = f_high_start * step ** (np.arange(len(ex)) + extra_start + 0.5) * shift
    d = pd.DataFrame({
        "freq": list(f_low[:n]) + list(f_hi) + list(f_exl) + list(f_ex),
        "mag": list(lo[:n]) + list(hi) + list(exl) + list(ex),
    })
    d = d.sort_values("freq", kind="stable")
    d["pos"] = lab
    frames.append(d)
df = pd.concat(frames, ignore_index=True)

# ---------------- plot ----------------
sns.set_theme(style="white")
plt.rcParams["font.family"] = ["Liberation Serif", "DejaVu Serif"]

W, H = 1211, 597
fig = plt.figure(figsize=(W / 100, H / 100), dpi=100)
ax = fig.add_axes([70 / W, 1 - 531 / H, 1137 / W, 516 / H])

sns.lineplot(data=df, x="freq", y="mag", hue="pos", hue_order=labels,
             palette=dict(zip(labels, colors)), estimator=None, sort=False,
             linewidth=1.2, ax=ax, legend=False)

ax.set_xscale("log")
ax.set_xlim(112.9, 8950)
ax.set_ylim(-90, 10)

xt = [200, 300, 400, 500, 600, 700, 800, 900, 1000, 2000, 3000, 4000, 5000, 6000, 7000, 8000]
xl = ["200", "", "400", "", "", "", "", "", "1k", "2k", "", "4k", "", "6k", "", ""]
ax.xaxis.set_major_locator(FixedLocator(xt))
ax.xaxis.set_major_formatter(FixedFormatter(xl))
ax.xaxis.set_minor_locator(NullLocator())
yt = list(range(-90, 11, 10))
ax.set_yticks(yt)
ax.set_yticklabels([str(v) for v in yt])

ax.grid(True, axis="both", which="major", color="#e3e3e3", linewidth=0.8)
ax.set_axisbelow(True)
for s in ["top", "right"]:
    ax.spines[s].set_visible(False)
for s in ["left", "bottom"]:
    ax.spines[s].set_color("#262626")
    ax.spines[s].set_linewidth(0.8)
ax.tick_params(axis="both", direction="in", length=5, width=0.8, color="#262626",
               labelsize=14, labelcolor="#000000", left=True, bottom=True)
ax.tick_params(axis="x", pad=7)
ax.tick_params(axis="y", pad=5)

ax.set_xlabel("Frequência [Hz]", fontsize=15)
ax.set_ylabel("Módulo [dB]", fontsize=15)
ax.xaxis.set_label_coords(0.5, -0.072)
ax.yaxis.set_label_coords(-0.034, 0.5)

handles = [Line2D([0], [0], color=c, lw=1.0) for c in colors]
leg = ax.legend(handles, labels, ncol=2, loc="lower center", bbox_to_anchor=(0.5, 0.0),
                fontsize=14.5, frameon=True, fancybox=False, framealpha=1,
                edgecolor="#4d4d4d", handlelength=1.65, handletextpad=0.15,
                columnspacing=0.5, labelspacing=0.26, borderpad=0.3, borderaxespad=0.0)
leg.get_frame().set_linewidth(0.8)

# title as in the source figure: it sits above the canvas, only its descenders show
fig.text(224 / W, 1.001, "Função das curvas para as posições dos microfones, sala de reuniões",
         fontsize=16.5, fontweight="bold", family="Liberation Sans",
         ha="left", va="baseline")

fig.savefig("out.png", dpi=100)
